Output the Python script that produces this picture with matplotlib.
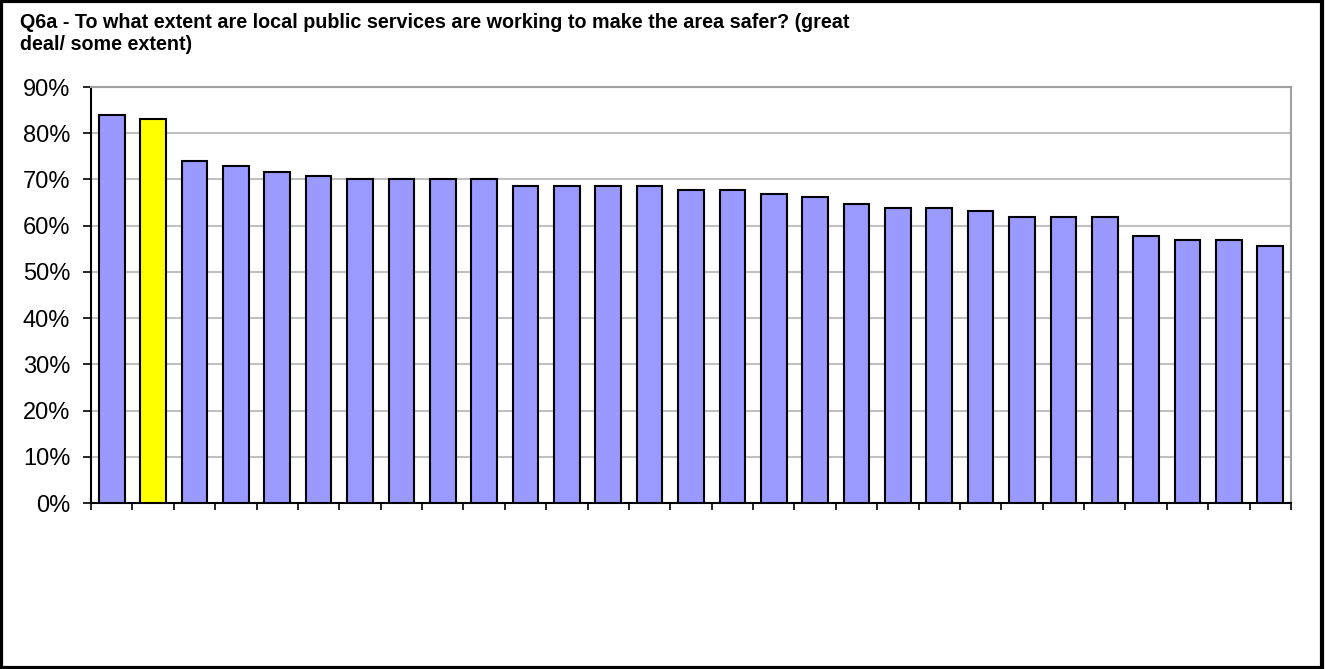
import matplotlib.pyplot as plt
from matplotlib.patches import Rectangle
import numpy as np

plt.rcParams['font.family'] = ['Liberation Sans', 'DejaVu Sans']

# share answering "great deal / some extent" (%), 29 areas, sorted
values = [84, 83, 74, 73, 71.7, 70.8, 70, 70, 70, 70, 68.6, 68.6, 68.6, 68.6,
          67.8, 67.8, 66.9, 66.1, 64.7, 63.9, 63.9, 63.1, 61.8, 61.8, 61.8,
          57.8, 56.9, 56.9, 55.6]
highlight = 1  # the yellow bar
y_ticks = list(range(0, 100, 10))

colors = ['#9999ff'] * len(values)
colors[highlight] = '#ffff00'

fig = plt.figure(figsize=(13.25, 6.69), dpi=100)
ax = fig.add_axes([91 / 1325, 1 - 503 / 669, 1200 / 1325, 416 / 669])

x = np.arange(len(values))
ax.bar(x, values, width=0.62, color=colors, edgecolor='black', linewidth=1.5, zorder=3)

ax.set_xlim(-0.5, len(values) - 0.5)
ax.set_ylim(0, 90)
ax.set_yticks(y_ticks)
ax.set_yticklabels(['%d%%' % t for t in y_ticks], fontsize=17)
ax.yaxis.grid(True, color='#c0c0c0', linewidth=1.5, zorder=0)

# excel style: ticks between categories, no labels
ax.set_xticks(np.arange(len(values) + 1) - 0.5)
ax.set_xticklabels([])
ax.tick_params(axis='x', direction='out', length=5, width=1.2)
ax.tick_params(axis='y', direction='out', length=6, width=1.2, pad=9)

ax.spines['left'].set_linewidth(1.5)
ax.spines['bottom'].set_linewidth(1.5)
ax.spines['top'].set_color('#a0a0a0')
ax.spines['right'].set_color('#a0a0a0')
ax.spines['top'].set_linewidth(1.5)
ax.spines['right'].set_linewidth(1.5)

fig.text(20 / 1325, 1 - 22 / 669,
         'Q6a - To what extent are local public services are working to make the area safer? (great',
         fontsize=14.2, fontweight='bold', va='center', ha='left')
fig.text(20 / 1325, 1 - 44 / 669, 'deal/ some extent)',
         fontsize=14.2, fontweight='bold', va='center', ha='left')

# outer frame
fig.patches.append(Rectangle((0.001, 0.002), 0.997, 0.996, transform=fig.transFigure,
                             fill=False, edgecolor='black', linewidth=3))

fig.savefig('out.png', dpi=100)
